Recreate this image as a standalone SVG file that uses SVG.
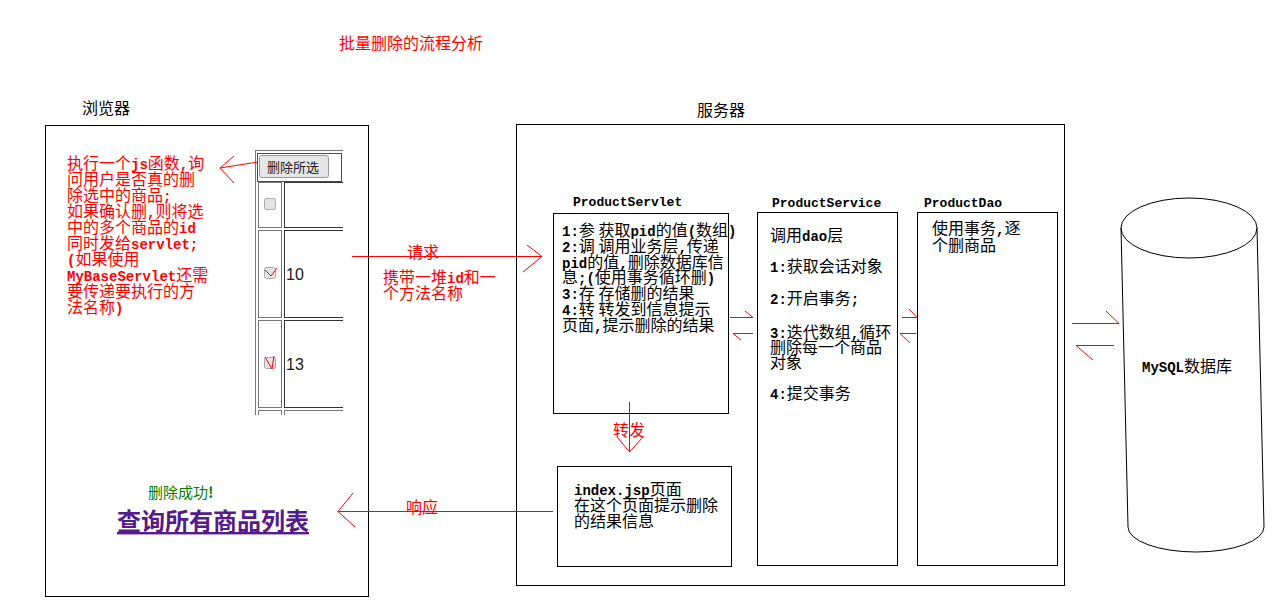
<svg xmlns="http://www.w3.org/2000/svg" width="1285" height="602" viewBox="0 0 1285 602">
<defs>
<style>
.cn{font-family:"Noto Sans CJK SC","Noto Sans",sans-serif;font-size:16px;fill:#000}
.red{fill:#ff0000}
.mono{font-family:"Liberation Mono","DejaVu Sans Mono",monospace;font-weight:bold;font-size:14px}
.lbl{font-family:"Liberation Mono","DejaVu Sans Mono",monospace;font-weight:bold;font-size:13px;fill:#000}
.box{fill:none;stroke:#000;stroke-width:1;shape-rendering:crispEdges}
.rl{fill:none;stroke:#ff0000;stroke-width:1}
.cell{fill:none;stroke:#777;stroke-width:1;shape-rendering:crispEdges}
.cell2{fill:none;stroke:#333;stroke-width:1;shape-rendering:crispEdges}
</style>
</defs>
<rect width="1285" height="602" fill="#fff"/>

<g id="title"><text class="cn red" x="339" y="49">批量删除的流程分析</text></g>

<g id="browser">
<text class="cn" x="82" y="114">浏览器</text>
<rect class="box" x="45.5" y="125.5" width="323" height="471"/>
<g id="browser-note">
<text class="cn red" x="67" y="169">执行一个<tspan class="mono">js</tspan>函数<tspan class="mono">,</tspan>询</text>
<text class="cn red" x="67" y="185">问用户是否真的删</text>
<text class="cn red" x="67" y="201">除选中的商品<tspan class="mono">;</tspan></text>
<text class="cn red" x="67" y="217">如果确认删<tspan class="mono">,</tspan>则将选</text>
<text class="cn red" x="67" y="233">中的多个商品的<tspan class="mono">id</tspan></text>
<text class="cn red" x="67" y="249">同时发给<tspan class="mono">servlet;</tspan></text>
<text class="cn red" x="67" y="265"><tspan class="mono">(</tspan>如果使用</text>
<text class="cn red" x="67" y="281"><tspan class="mono">MyBaseServlet</tspan>还需</text>
<text class="cn red" x="67" y="297">要传递要执行的方</text>
<text class="cn red" x="67" y="313">法名称<tspan class="mono">)</tspan></text>
</g>
<g id="table">
<line class="cell" x1="255.5" y1="150" x2="255.5" y2="415"/>
<line class="cell" x1="255" y1="150.5" x2="343" y2="150.5"/>
<rect x="259.5" y="155.5" width="69" height="22" rx="2" fill="#e6e6e6" stroke="#999"/>
<text x="267" y="172" style="font-family:'Noto Sans CJK SC',sans-serif;font-size:13px;fill:#222">删除所选</text>
<rect x="257.5" y="153.5" width="84" height="28" fill="none" stroke="#ff0000"/>
<rect class="cell" x="258.5" y="182.5" width="23" height="45"/>
<path class="cell2" d="M343 182.5H284.5V227.5H343"/>
<rect class="cell" x="258.5" y="230.5" width="23" height="87"/>
<path class="cell2" d="M343 230.5H284.5V317.5H343"/>
<rect class="cell" x="258.5" y="320.5" width="23" height="87"/>
<path class="cell2" d="M343 320.5H284.5V407.5H343"/>
<path class="cell" d="M258.5 415V410.5H281.5V415M284.5 415V410.5H343"/>
<rect x="264.5" y="198.5" width="11" height="11" rx="2" fill="#e4e4e4" stroke="#aaa"/>
<rect x="264.5" y="267.5" width="11" height="11" rx="2" fill="#e4e4e4" stroke="#aaa"/>
<path class="rl" d="M265 270L271 276L277 268"/>
<rect x="264.5" y="357.5" width="11" height="11" rx="2" fill="#e4e4e4" stroke="#aaa"/>
<path class="rl" d="M265 357L272 369L274 356"/>
<text x="286" y="280" style="font-family:'Liberation Sans',sans-serif;font-size:16px;fill:#1a1a1a">10</text>
<text x="286" y="370" style="font-family:'Liberation Sans',sans-serif;font-size:16px;fill:#1a1a1a">13</text>
</g>
<text x="148" y="498" style="font-family:'Noto Sans CJK SC',sans-serif;font-size:15px;fill:#008000">删除成功<tspan style="font-weight:bold">!</tspan></text>
<text x="117" y="530" style="font-family:'Noto Sans CJK SC',sans-serif;font-size:24px;font-weight:bold;fill:#551a8b;text-decoration:underline">查询所有商品列表</text>
</g>

<g id="server">
<text class="cn" x="697" y="116">服务器</text>
<rect class="box" x="516.5" y="124.5" width="548" height="461"/>
</g>

<g id="servlet">
<text class="lbl" x="573" y="206">ProductServlet</text>
<rect class="box" x="553.5" y="213.5" width="175" height="200"/>
<text class="cn" x="562" y="236"><tspan class="mono">1:</tspan>参 获取<tspan class="mono">pid</tspan>的值<tspan class="mono">(</tspan>数组<tspan class="mono">)</tspan></text>
<text class="cn" x="562" y="252"><tspan class="mono">2:</tspan>调 调用业务层<tspan class="mono">,</tspan>传递</text>
<text class="cn" x="562" y="268"><tspan class="mono">pid</tspan>的值<tspan class="mono">,</tspan>删除数据库信</text>
<text class="cn" x="562" y="283">息<tspan class="mono">;(</tspan>使用事务循环删<tspan class="mono">)</tspan></text>
<text class="cn" x="562" y="299"><tspan class="mono">3:</tspan>存 存储删的结果</text>
<text class="cn" x="562" y="315"><tspan class="mono">4:</tspan>转 转发到信息提示</text>
<text class="cn" x="562" y="331">页面<tspan class="mono">,</tspan>提示删除的结果</text>
</g>

<g id="service">
<text class="lbl" x="772" y="207">ProductService</text>
<rect class="box" x="757.5" y="212.5" width="140" height="353"/>
<text class="cn" x="770" y="241">调用<tspan class="mono">dao</tspan>层</text>
<text class="cn" x="770" y="272"><tspan class="mono">1:</tspan>获取会话对象</text>
<text class="cn" x="770" y="304"><tspan class="mono">2:</tspan>开启事务<tspan class="mono">;</tspan></text>
<text class="cn" x="770" y="338"><tspan class="mono">3:</tspan>迭代数组<tspan class="mono">,</tspan>循环</text>
<text class="cn" x="770" y="353">删除每一个商品</text>
<text class="cn" x="770" y="368">对象</text>
<text class="cn" x="770" y="399"><tspan class="mono">4:</tspan>提交事务</text>
</g>

<g id="dao">
<text class="lbl" x="924" y="207">ProductDao</text>
<rect class="box" x="917.5" y="212.5" width="140" height="353"/>
<text class="cn" x="932" y="234">使用事务<tspan class="mono">,</tspan>逐</text>
<text class="cn" x="932" y="251">个删商品</text>
</g>

<g id="index">
<rect class="box" x="557.5" y="466.5" width="174" height="100"/>
<text class="cn" x="574" y="495"><tspan class="mono">index.jsp</tspan>页面</text>
<text class="cn" x="574" y="511">在这个页面提示删除</text>
<text class="cn" x="574" y="527">的结果信息</text>
</g>

<g id="db">
<path d="M1121 228 A68 30 0 0 1 1257 228 A68 30 0 0 1 1121 228 Z" fill="none" stroke="#000"/>
<path d="M1121 228 L1128 527 A68 25 0 0 0 1264 527 L1257 228" fill="none" stroke="#000"/>
<text class="cn" x="1142" y="372"><tspan class="mono">MySQL</tspan>数据库</text>
</g>

<g id="connectors">
<path class="rl" d="M258 162L220 168M234 156L220 168L234 183"/>
<path class="rl" d="M352 256.5H542M527 245L542 256.5L523 272"/>
<text class="cn red" x="407" y="258">请求</text>
<text class="cn red" x="383" y="283">携带一堆<tspan class="mono">id</tspan>和一</text>
<text class="cn red" x="383" y="299">个方法名称</text>
<path class="rl" d="M730 317.5H753M745 311L753 317.5"/>
<path class="rl" d="M733 333.5H753M733 333.5L741 340"/>
<path class="rl" d="M902 317.5H917M909 309L917 317.5"/>
<path class="rl" d="M900 333.5H916M900 333.5L910 343"/>
<path class="rl" d="M1072 323.5H1119M1106 311L1119 323.5"/>
<path class="rl" d="M1076 345.5H1114M1076 345.5L1093 360"/>
<path class="rl" d="M629.5 402V452M618 438L629.5 452L642 438"/>
<text class="cn red" x="613" y="436">转发</text>
<path class="rl" d="M553 511.5H338M353 493L338 511.5L355 527"/>
<text class="cn red" x="406" y="513">响应</text>
</g>
</svg>
